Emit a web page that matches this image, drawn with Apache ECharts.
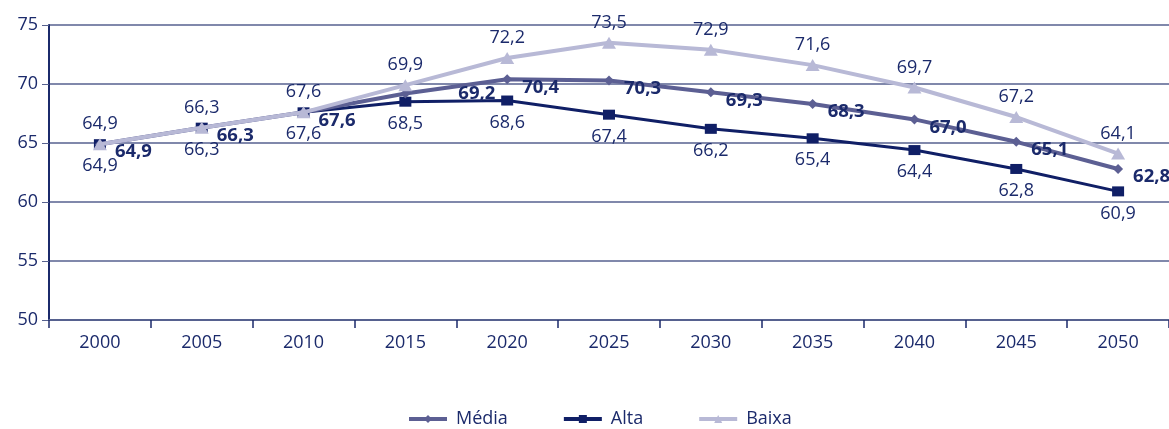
<!DOCTYPE html>
<html>
<head>
<meta charset="utf-8">
<script src="https://cdn.jsdelivr.net/npm/echarts@6/dist/echarts.min.js"></script>
<style>
    html, body { margin: 0; padding: 0; background: #fff; }
    #chart { width: 1169px; height: 429px; }
</style>
</head>
<body>
<div id="chart"></div>
<script>
    // anos
    let anos = ['2000', '2005', '2010', '2015', '2020', '2025', '2030', '2035', '2040', '2045', '2050'];
    // projeções
    let media = [64.9, 66.3, 67.6, 69.2, 70.4, 70.3, 69.3, 68.3, 67.0, 65.1, 62.8];
    let alta = [64.9, 66.3, 67.6, 68.5, 68.6, 67.4, 66.2, 65.4, 64.4, 62.8, 60.9];
    let baixa = [64.9, 66.3, 67.6, 69.9, 72.2, 73.5, 72.9, 71.6, 69.7, 67.2, 64.1];

    let navy = '#1b2a6b';
    let fonte = '"Open Sans", "Noto Sans", sans-serif';
    let fmt = function (p) { return p.value.toFixed(1).replace('.', ','); };

    let chart = echarts.init(document.getElementById('chart'));

    // rótulo de 2015 da série média fica deslocado no original
    let mediaData = media.map(function (v, i) {
        if (i == 3) {
            return { value: v, label: { offset: [38, 0] } };
        }
        return v;
    });

    let option = {
        animation: false,
        textStyle: { fontFamily: fonte },
        grid: {
            left: 49,
            right: 0,
            top: 25,
            bottom: 109
        },
        legend: {
            bottom: -4,
            left: 402,
            itemWidth: 38,
            itemHeight: 10,
            itemGap: 54,
            lineStyle: { width: 4 },
            textStyle: { color: navy, fontSize: 18, fontFamily: fonte, padding: [0, 0, 0, 4] },
            data: ['Média', 'Alta', 'Baixa']
        },
        xAxis: {
            type: 'category',
            data: anos,
            boundaryGap: true,
            axisLine: { lineStyle: { color: '#56618f', width: 2 } },
            axisTick: { show: true, length: 8, lineStyle: { color: navy, width: 1.5 } },
            axisLabel: { color: navy, fontSize: 18, margin: 14 }
        },
        yAxis: {
            type: 'value',
            min: 50,
            max: 75,
            interval: 5,
            axisLine: { show: true, lineStyle: { color: navy, width: 2 } },
            axisTick: { show: true, length: 7, lineStyle: { color: '#56618f' } },
            axisLabel: { color: navy, fontSize: 18, margin: 11 },
            splitLine: { lineStyle: { color: '#56618f', width: 1.5 } }
        },
        series: [
            {
                name: 'Alta',
                type: 'line',
                data: alta,
                z: 2,
                symbol: 'rect',
                symbolSize: [12, 10],
                itemStyle: { color: '#101f66' },
                lineStyle: { color: '#101f66', width: 3 },
                label: {
                    show: true,
                    position: 'bottom',
                    distance: 8,
                    color: navy,
                    fontSize: 18,
                    formatter: fmt
                }
            },
            {
                name: 'Média',
                type: 'line',
                data: mediaData,
                z: 3,
                symbol: 'diamond',
                symbolSize: 10,
                itemStyle: { color: '#5c5f93' },
                lineStyle: { color: '#5c5f93', width: 4 },
                label: {
                    show: true,
                    position: 'right',
                    distance: 10,
                    offset: [0, 8],
                    color: navy,
                    fontSize: 18.5,
                    fontWeight: 'bold',
                    formatter: fmt
                }
            },
            {
                name: 'Baixa',
                type: 'line',
                data: baixa,
                z: 4,
                symbol: 'triangle',
                symbolSize: [14, 12],
                itemStyle: { color: '#b8b9d6' },
                lineStyle: { color: '#b8b9d6', width: 4 },
                label: {
                    show: true,
                    position: 'top',
                    distance: 5,
                    color: navy,
                    fontSize: 18,
                    formatter: fmt
                }
            }
        ]
    };
    chart.setOption(option, true);
    window.addEventListener('resize', function () {
        chart.resize();
    });
</script>
</body>
</html>
